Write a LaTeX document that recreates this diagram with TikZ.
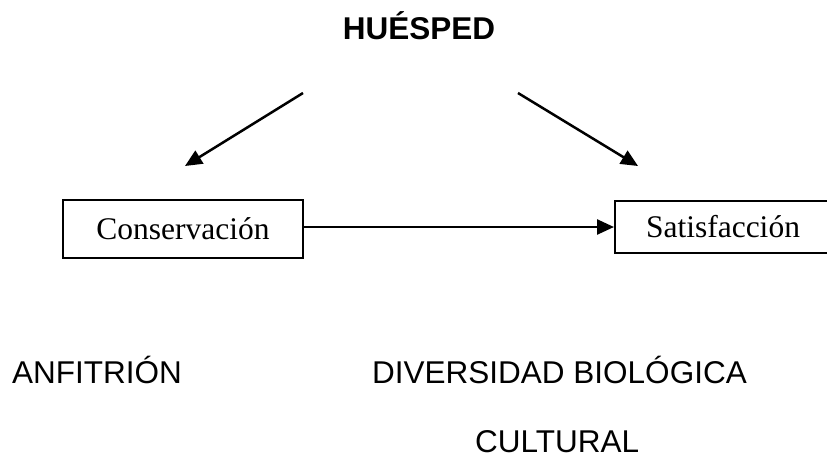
\documentclass[tikz,border=0pt]{standalone}
\usepackage{fontspec}
\setmainfont{Liberation Serif}
\setsansfont{Liberation Sans}
\usetikzlibrary{arrows.meta}
\begin{document}
\begin{tikzpicture}[x=1pt,y=-1pt,
  lbl/.style={inner sep=0pt,font=\sffamily\fontsize{31.5}{36}\selectfont},
  boxnode/.style={draw,line width=2pt,inner sep=0pt,font=\rmfamily\fontsize{31.5}{36}\selectfont},
  conn/.style={line width=2.5pt,-{Triangle[length=17pt,width=15pt]}}]
\useasboundingbox (0,0) rectangle (827,459);
\node[lbl,anchor=base,font=\sffamily\bfseries\fontsize{31.5}{36}\selectfont] (huesped) at (419,39) {HUÉSPED};
\node[boxnode,minimum width=240pt,minimum height=58pt] (cons) at (183,229) {Conservación};
\node[boxnode,minimum width=216pt,minimum height=52pt] (sat) at (723,227) {Satisfacción};
\coordinate (l1) at (303,93);
\coordinate (l2) at (185,166);
\coordinate (r1) at (518,93);
\coordinate (r2) at (638,166);
\draw[conn] (l1) -- (l2);
\draw[conn] (r1) -- (r2);
\draw[conn] (cons.east |- sat.west) -- (sat.west);
\node[lbl,anchor=base west] (anf) at (12,383) {ANFITRIÓN};
\node[lbl,anchor=base west] (div) at (372,383) {DIVERSIDAD BIOLÓGICA};
\node[lbl,anchor=base west] (cul) at (475,452) {CULTURAL};
\end{tikzpicture}
\end{document}
